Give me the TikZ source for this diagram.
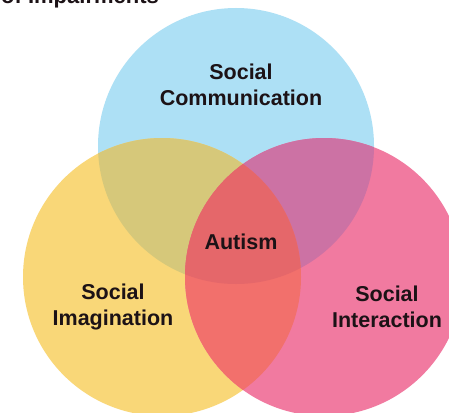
\documentclass[tikz,border=0pt]{standalone}
\usepackage{fontspec}
\setmainfont{Liberation Sans}
\usepackage{tikz}
\usetikzlibrary{positioning}

\definecolor{commblue}{RGB}{173,224,245}
\definecolor{imagyellow}{RGB}{249,215,120}
\definecolor{interpink}{RGB}{241,122,160}
\definecolor{commimag}{RGB}{214,200,122}
\definecolor{comminter}{RGB}{204,114,164}
\definecolor{imaginter}{RGB}{242,112,108}
\definecolor{allthree}{RGB}{229,103,106}
\definecolor{textdark}{RGB}{28,18,22}

\begin{document}
\begin{tikzpicture}[
    x=1pt, y=-1pt,
    area/.style={font=\fontsize{21.5}{26.5}\selectfont\bfseries, align=center, text=textdark, inner sep=0pt},
    heading/.style={font=\fontsize{22}{26}\selectfont\bfseries, text=textdark, inner sep=0pt}
  ]
  \useasboundingbox (0,0) rectangle (449,412);
  \clip (0,0) rectangle (449,412);
  \fill[white] (0,0) rectangle (449,412);

  % Circle centres
  \coordinate (comm) at (236,146);
  \coordinate (imag) at (162,277);
  \coordinate (inter) at (324,277);

  % The three circles
  \fill[commblue] (comm) circle (138);
  \fill[imagyellow] (imag) circle (139);
  \fill[interpink] (inter) circle (139);

  % Overlaps of two
  \begin{scope}
    \clip (comm) circle (138);
    \fill[commimag] (imag) circle (139);
    \fill[comminter] (inter) circle (139);
  \end{scope}
  \begin{scope}
    \clip (imag) circle (139);
    \fill[imaginter] (inter) circle (139);
    % Overlap of all three
    \clip (inter) circle (139);
    \fill[allthree] (comm) circle (138);
  \end{scope}

  % Heading, cut off at the top
  \node[heading, anchor=base west] (title) at (1,4) {of Impairments};

  % Labels
  \node[area] (commtext) at (241,85) {Social\\Communication};
  \node[area] (autism) at (241,242) {Autism};
  \node[area] (imagtext) at (113,307) {Social\\Imagination};
  \node[area] (intertext) at (387,307) {Social\\Interaction};

\end{tikzpicture}
\end{document}
